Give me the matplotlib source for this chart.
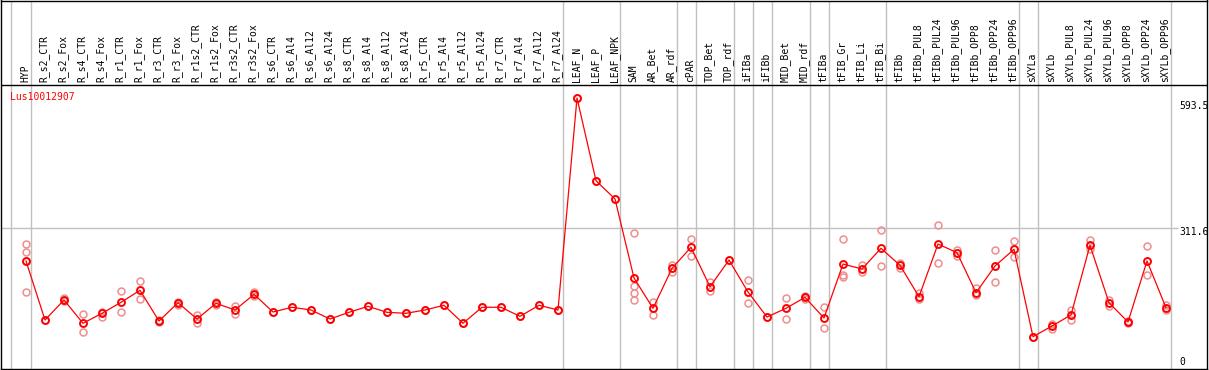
import numpy as np
import matplotlib
matplotlib.use("Agg")
import matplotlib.pyplot as plt

# ---- data ----
categories = [
    "HYP", "R_s2_CTR", "R_s2_Fox", "R_s4_CTR", "R_s4_Fox", "R_r1_CTR", "R_r1_Fox",
    "R_r3_CTR", "R_r3_Fox", "R_r1s2_CTR", "R_r1s2_Fox", "R_r3s2_CTR", "R_r3s2_Fox",
    "R_s6_CTR", "R_s6_Al4", "R_s6_Al12", "R_s6_Al24", "R_s8_CTR", "R_s8_Al4",
    "R_s8_Al12", "R_s8_Al24", "R_r5_CTR", "R_r5_Al4", "R_r5_Al12", "R_r5_Al24",
    "R_r7_CTR", "R_r7_Al4", "R_r7_Al12", "R_r7_Al24", "LEAF_N", "LEAF_P", "LEAF_NPK",
    "SAM", "AR_Bet", "AR_rdf", "cPAR", "TOP_Bet", "TOP_rdf", "iFIBa", "iFIBb",
    "MID_Bet", "MID_rdf", "tFIBa", "tFIB_Gr", "tFIB_Li", "tFIB_Bi", "tFIBb",
    "tFIBb_PUL8", "tFIBb_PUL24", "tFIBb_PUL96", "tFIBb_OPP8", "tFIBb_OPP24",
    "tFIBb_OPP96", "sXYLa", "sXYLb", "sXYLb_PUL8", "sXYLb_PUL24", "sXYLb_PUL96",
    "sXYLb_OPP8", "sXYLb_OPP24", "sXYLb_OPP96",
]

mean_vals = [
    240.1, 112.1, 155.5, 105.0, 126.6, 150.5, 176.5, 109.9, 149.6, 114.3, 148.3,
    133.8, 167.8, 129.5, 139.7, 133.8, 114.3, 128.8, 141.8, 128.8, 126.6, 133.8,
    144.0, 105.0, 139.7, 139.7, 120.1, 144.0, 133.8, 593.5, 414.2, 374.5, 203.2,
    137.5, 224.2, 269.8, 184.3, 242.2, 172.8, 118.6, 137.5, 161.3, 116.4, 233.5,
    222.7, 267.6, 230.7, 162.6, 276.9, 258.1, 171.3, 229.2, 265.4, 75.9, 99.1,
    123.0, 274.1, 149.6, 107.8, 240.1, 138.8,
]

replicates = [
    [276.3, 259.6, 240.1, 172.8], [112.1], [159.3, 153.3], [124.5, 85.4],
    [129.4, 119.3], [175.0, 128.8], [196.7, 157.0], [107.1, 112.8], [151.8, 144.6],
    [123.0, 105.0], [151.1, 145.3], [142.5, 124.5], [172.2, 164.2], [129.5],
    [139.7], [133.8], [114.3], [128.8], [141.8], [128.8], [126.6], [133.8], [144.0],
    [105.0], [139.7], [139.7], [120.1], [144.0], [133.8], [593.5], [414.2], [374.5],
    [300.1, 185.8, 170.0, 155.5], [151.8, 122.3], [230.7, 216.2], [287.1, 250.9],
    [193.9, 175.6], [242.2], [198.2, 148.3], [118.6], [159.2, 114.3], [157.0, 164.2],
    [139.7, 94.1], [287.1, 209.7, 204.7], [231.4, 216.0], [306.6, 228.6],
    [236.4, 225.5], [170.0, 157.0], [317.5, 235.1], [263.9, 250.9], [180.9, 166.3],
    [263.3, 194.5], [282.8, 249.4], [75.9], [93.2, 103.4], [133.8, 112.1],
    [285.6, 265.4], [142.5, 155.5], [105.0, 110.7], [271.9, 209.7], [144.0, 133.8],
]

# sizes of the sample groups separated by grey lines
group_sizes = [1, 28, 3, 3, 1, 2, 1, 1, 2, 1, 3, 7, 1, 7]

gene_id = "Lus10012907"
ref_ticks = [593.5, 311.6, 0]
ref_labels = ["593.5", "311.6", "0"]

x = np.arange(len(categories))
rep_x = np.concatenate([[i] * len(r) for i, r in enumerate(replicates)])
rep_y = np.concatenate(replicates)

fig = plt.figure(figsize=(12.09, 3.70), dpi=100)
ax = fig.add_axes([1 / 1209, 1 / 370, 1206 / 1209, 368.5 / 370])
ax.set_xlim(-1.316, 62.158)
ax.set_ylim(5.85, 805.0)
ax.set_xticks([])
ax.set_yticks([])
for s in ax.spines.values():
    s.set_color("black")
    s.set_linewidth(1.0)

header_y = 621.1
mono = "DejaVu Sans Mono"

# grey separators between groups
bounds = np.cumsum(group_sizes) - 1 + 0.25
ax.axvline(-0.805, color="#c0c0c0", lw=1.0, zorder=1)
for b in bounds:
    ax.axvline(b, color="#c0c0c0", lw=1.0, zorder=1)

# horizontal reference line + header separator
ax.hlines(ref_ticks[1], -1.316, 60.63, color="#c0c0c0", lw=1.0, zorder=1)
ax.axhline(header_y, color="black", lw=1.0, zorder=3)

# sample names in header
for i, name in enumerate(categories):
    ax.text(i - 0.05, header_y + 7, name, rotation=90, ha="center", va="bottom",
            fontsize=7, family=mono, color="black")

# replicate points, then mean line
ax.plot(rep_x, rep_y, "o", ls="none", ms=5, mfc="none", mec="#ee8e8e",
        mew=1.1, zorder=2)
ax.plot(x, mean_vals, "-", color="red", lw=0.9, zorder=4)
ax.plot(x, mean_vals, "o", ls="none", ms=5, mfc="none", mec="red", mew=1.4,
        zorder=5)

ax.text(-0.84, 596.3, gene_id, color="red", fontsize=7, family=mono,
        ha="left", va="center")

# value labels on the right
offsets = [-6, -3, 7]
for v, lab, off in zip(ref_ticks, ref_labels, offsets):
    ax.annotate(lab, (60.68, v), xytext=(0, off), textcoords="offset points",
                ha="left", va="center", fontsize=7, family=mono, color="black",
                annotation_clip=False)

fig.savefig("out.png", dpi=100)
